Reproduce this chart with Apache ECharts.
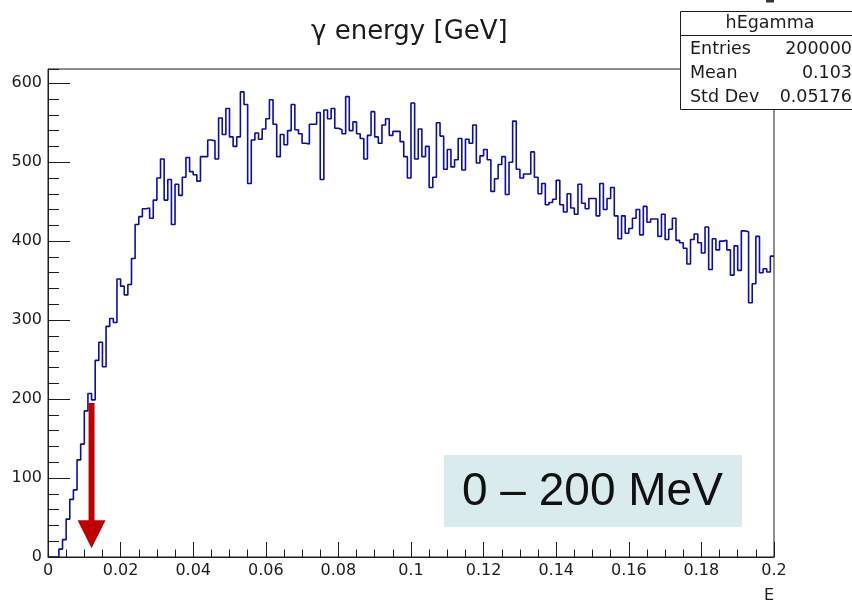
<!DOCTYPE html>
<html>
<head>
<meta charset="utf-8">
<script src="https://cdn.jsdelivr.net/npm/echarts@6/dist/echarts.min.js"></script>
<style>
  html, body { margin: 0; padding: 0; background: #fff; }
  #chart { width: 852px; height: 604px; }
</style>
</head>
<body>
<div id="chart"></div>
<script>
// Photon energy histogram: 200 bins of 1 MeV from 0 to 0.2 GeV
const histName = 'hEgamma';
const histTitle = 'γ energy [GeV]';
const axisTitleX = 'E';
const binWidth = 0.001;
const xRange = [0, 0.2];
const yRange = [0, 618];
const counts = [
  0, 0, 0, 10, 22, 48, 73, 85, 123, 143,
  185, 207, 199, 249, 272, 241, 292, 302, 297, 352,
  343, 332, 345, 378, 421, 431, 441, 442, 429, 452,
  480, 504, 452, 478, 421, 472, 458, 481, 506, 488,
  484, 476, 507, 507, 528, 527, 504, 556, 535, 568,
  532, 520, 532, 589, 573, 473, 528, 537, 529, 542,
  555, 579, 548, 507, 535, 522, 540, 573, 541, 536,
  524, 523, 548, 548, 563, 478, 566, 555, 568, 543,
  541, 536, 583, 540, 551, 536, 530, 504, 534, 564,
  532, 524, 547, 555, 534, 539, 539, 526, 507, 480,
  575, 504, 542, 507, 520, 468, 481, 550, 533, 491,
  516, 494, 503, 530, 490, 529, 524, 547, 499, 508,
  516, 503, 463, 479, 497, 507, 459, 500, 552, 491,
  480, 485, 485, 513, 481, 460, 473, 446, 449, 453,
  477, 446, 437, 460, 442, 434, 472, 448, 441, 454,
  454, 432, 473, 440, 454, 468, 432, 403, 432, 410,
  416, 429, 440, 408, 444, 424, 428, 428, 406, 434,
  402, 415, 429, 401, 398, 391, 371, 402, 409, 398,
  385, 418, 364, 403, 389, 400, 401, 389, 357, 394,
  363, 413, 412, 322, 346, 406, 360, 365, 361, 381
];
// statistics box rows
const statsRows = [
  ['Entries', '200000'],
  ['Mean', '0.103'],
  ['Std Dev', '0.05176']
];
// annotation: energy window and arrow at 12 MeV
const windowLabel = '0 – 200 MeV';
const arrowAt = 0.012;
const arrowFrom = 195;
const arrowTo = 11;

// outline points at the bin edges, drawn as a step line
const outline = counts.map((c, i) => [i * binWidth, c]);
outline.push([counts.length * binWidth, counts[counts.length - 1]]);

const FONT = 'DejaVu Sans';
const INK = '#1c1c1c';

const chart = echarts.init(document.getElementById('chart'));
chart.setOption({
  animation: false,
  backgroundColor: '#fff',
  title: {
    text: histTitle,
    left: 311,
    top: 19,
    padding: 0,
    textStyle: { fontFamily: FONT, fontSize: 26, fontWeight: 'normal', color: INK }
  },
  grid: {
    left: 48, right: 78, top: 69, bottom: 42,
    show: true, borderColor: INK, borderWidth: 1, backgroundColor: 'transparent'
  },
  xAxis: {
    type: 'value',
    min: xRange[0], max: xRange[1], interval: 0.02,
    z: 5,
    name: axisTitleX,
    nameLocation: 'end',
    nameGap: 0,
    nameTextStyle: {
      fontFamily: FONT, fontSize: 16, color: INK,
      align: 'right', verticalAlign: 'top', padding: [31, 0, 0, 0]
    },
    axisLine: { show: true, onZero: false, lineStyle: { color: INK, width: 1 } },
    axisTick: { show: true, inside: true, length: 15, lineStyle: { color: INK, width: 1 } },
    minorTick: { show: true, splitNumber: 4, length: 7.5, lineStyle: { color: INK, width: 1 } },
    axisLabel: { fontFamily: FONT, fontSize: 16, color: INK, margin: 6 },
    splitLine: { show: false },
    minorSplitLine: { show: false }
  },
  yAxis: [
    {
      type: 'value',
      min: yRange[0], max: yRange[1], interval: 100,
      z: 5,
      axisLine: { show: true, onZero: false, lineStyle: { color: INK, width: 1 } },
      axisTick: { show: true, inside: true, length: 22, lineStyle: { color: INK, width: 1 } },
      axisLabel: { fontFamily: FONT, fontSize: 16, color: INK, margin: 6, showMaxLabel: false },
      splitLine: { show: false }
    },
    {
      // secondary divisions every 20 entries
      type: 'value',
      min: yRange[0], max: yRange[1], interval: 20,
      position: 'left',
      z: 5,
      axisLine: { show: false },
      axisTick: { show: true, inside: true, length: 11, lineStyle: { color: INK, width: 1 } },
      axisLabel: { show: false },
      splitLine: { show: false }
    }
  ],
  series: [{
    name: histName,
    type: 'line',
    step: 'end',
    data: outline,
    symbol: 'none',
    clip: true,
    z: 2,
    lineStyle: { color: '#0c0ca6', width: 1.6 }
  }]
});

// overlays: stats box, energy window label and arrow
const arrowStart = chart.convertToPixel({ gridIndex: 0 }, [arrowAt, arrowFrom]);
const arrowTip = chart.convertToPixel({ gridIndex: 0 }, [arrowAt, arrowTo]);
const headLen = 28, headHalf = 14, shaftHalf = 3;
const red = '#c00000';

const statsBox = {
  type: 'group',
  children: [
    { type: 'rect', shape: { x: 680.5, y: 11.5, width: 200, height: 98 },
      style: { fill: '#fff', stroke: INK, lineWidth: 1 }, z: 10 },
    { type: 'line', shape: { x1: 680.5, y1: 35.5, x2: 880, y2: 35.5 },
      style: { stroke: INK, lineWidth: 1 }, z: 10 },
    { type: 'text', x: 770, y: 23, z: 11,
      style: { text: histName, fontFamily: FONT, fontSize: 17.5, fill: INK,
               align: 'center', verticalAlign: 'middle' } }
  ].concat(statsRows.flatMap((row, i) => [
    { type: 'text', x: 690, y: 49 + i * 24, z: 11,
      style: { text: row[0], fontFamily: FONT, fontSize: 17.5, fill: INK,
               align: 'left', verticalAlign: 'middle' } },
    { type: 'text', x: 852, y: 49 + i * 24, z: 11,
      style: { text: row[1], fontFamily: FONT, fontSize: 17.5, fill: INK,
               align: 'right', verticalAlign: 'middle' } }
  ]))
};

chart.setOption({
  graphic: [
    { type: 'rect', shape: { x: 766, y: 0, width: 8, height: 2.5 }, style: { fill: '#333' }, z: 10 },
    statsBox,
    { type: 'rect', shape: { x: 444, y: 455, width: 298, height: 72 },
      style: { fill: '#d9ebec' }, z: 10 },
    { type: 'text', x: 462, y: 492, z: 11,
      style: { text: windowLabel, fontFamily: 'Liberation Sans', fontSize: 46, fill: '#111',
               align: 'left', verticalAlign: 'middle' } },
    { type: 'rect', z: 12,
      shape: { x: arrowStart[0] - shaftHalf, y: arrowStart[1], width: shaftHalf * 2,
               height: arrowTip[1] - headLen - arrowStart[1] + 1 },
      style: { fill: red } },
    { type: 'polygon', z: 12,
      shape: { points: [[arrowTip[0] - headHalf, arrowTip[1] - headLen],
                        [arrowTip[0] + headHalf, arrowTip[1] - headLen],
                        [arrowTip[0], arrowTip[1]]] },
      style: { fill: red } }
  ]
});
</script>
</body>
</html>
